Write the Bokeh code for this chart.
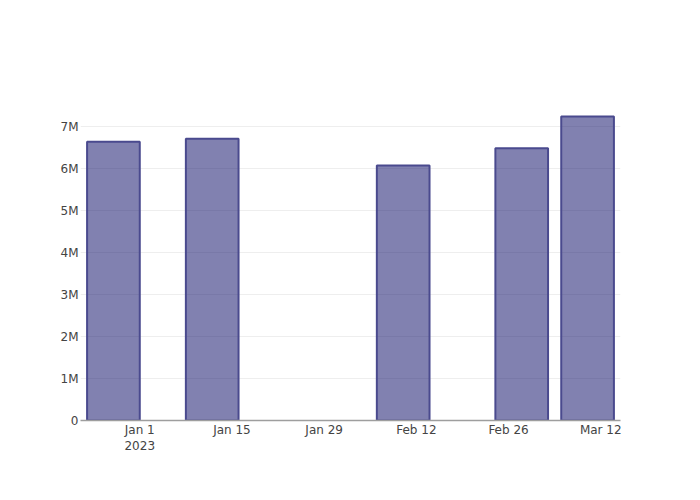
from datetime import datetime
from bokeh.plotting import figure
from bokeh.models import ColumnDataSource, FixedTicker, Range1d
from bokeh.embed import file_html
from bokeh.resources import INLINE

# ---- data ----
dates = ["2022-12-28", "2023-01-12", "2023-02-10", "2023-02-28", "2023-03-10"]
values = [6.64e6, 6.71e6, 6.07e6, 6.48e6, 7.24e6]
x_tick_dates = ["2023-01-01", "2023-01-15", "2023-01-29", "2023-02-12", "2023-02-26", "2023-03-12"]
x_tick_labels = ["Jan 1\n2023", "Jan 15", "Jan 29", "Feb 12", "Feb 26", "Mar 12"]
y_ticks = [0, 1e6, 2e6, 3e6, 4e6, 5e6, 6e6, 7e6]
y_tick_labels = ["0", "1M", "2M", "3M", "4M", "5M", "6M", "7M"]
bar_width_days = 8
x_start, x_end = "2022-12-23", "2023-03-15"
y_max = 7.62e6

def ms(s):
    return (datetime.strptime(s, "%Y-%m-%d") - datetime(1970, 1, 1)).total_seconds() * 1000

day_ms = 86400000
src = ColumnDataSource(dict(x=[ms(d) for d in dates], top=values))

p = figure(width=684, height=484, output_backend="svg", toolbar_location=None,
           x_axis_type="datetime",
           x_range=Range1d(ms(x_start), ms(x_end)), y_range=Range1d(0, y_max),
           min_border_left=80, min_border_right=64, min_border_top=100, min_border_bottom=64)

p.vbar(x="x", top="top", bottom=0, width=bar_width_days * day_ms, source=src,
       fill_color="#191970", fill_alpha=0.55, line_color="#4a4a8e", line_width=2)

p.outline_line_color = None
p.background_fill_color = "white"
p.border_fill_color = "white"

xt = [ms(d) for d in x_tick_dates]
p.xaxis.ticker = FixedTicker(ticks=xt)
p.xaxis.major_label_overrides = {t: l for t, l in zip(xt, x_tick_labels)}
p.xaxis.axis_line_color = "#9e9e9e"
p.xaxis.axis_line_width = 1.5
p.xaxis.major_tick_line_color = None
p.xaxis.minor_tick_line_color = None
p.xaxis.major_label_standoff = -4

p.yaxis.ticker = FixedTicker(ticks=y_ticks)
p.yaxis.major_label_overrides = {t: l for t, l in zip(y_ticks, y_tick_labels)}
p.yaxis.axis_line_color = None
p.yaxis.major_tick_line_color = None
p.yaxis.minor_tick_line_color = None
p.yaxis.major_label_standoff = -4

for ax in (p.xaxis, p.yaxis):
    ax.major_label_text_font = "DejaVu Sans"
    ax.major_label_text_font_size = "12px"
    ax.major_label_text_color = "#444444"

p.xgrid.grid_line_color = None
p.ygrid.grid_line_color = "#eeeeee"
p.ygrid.grid_line_width = 1

open("out.html", "w").write(file_html(p, INLINE))
